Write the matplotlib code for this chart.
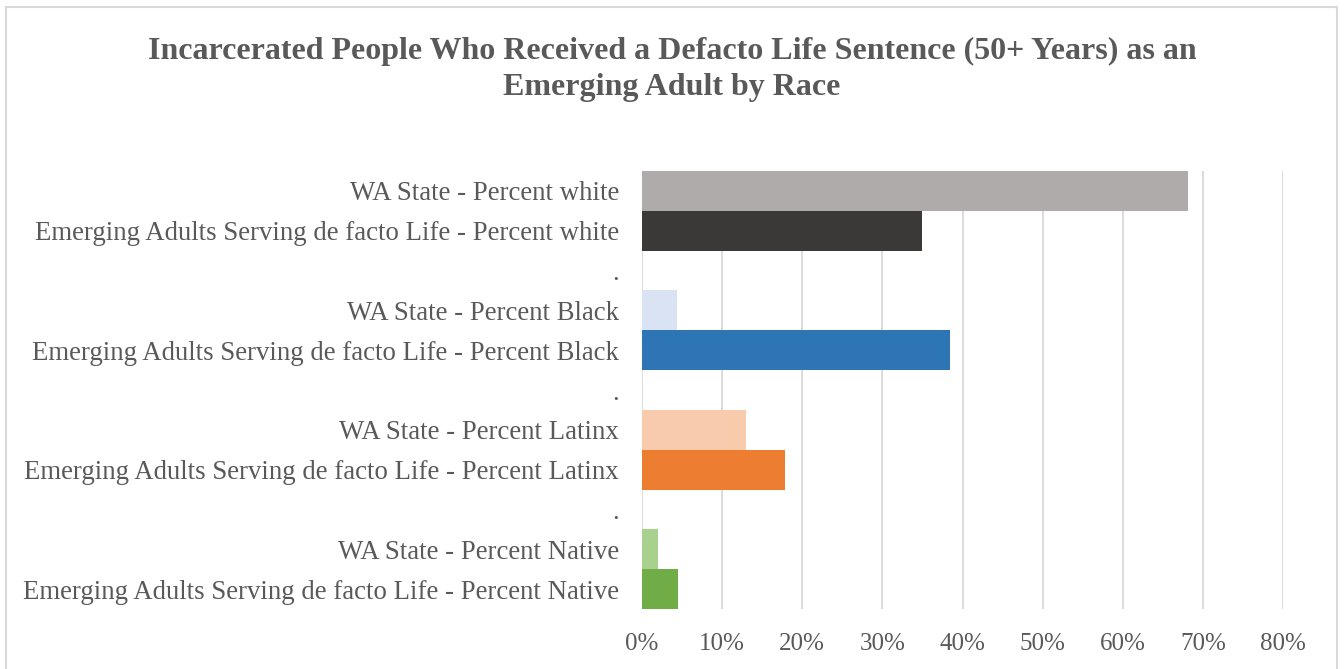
import matplotlib
matplotlib.use("Agg")
import matplotlib.pyplot as plt
from matplotlib.patches import Rectangle
from matplotlib.ticker import PercentFormatter

# categories top to bottom, "." rows are spacers in the original chart
labels = [
    "WA State - Percent white",
    "Emerging Adults Serving de facto Life - Percent white",
    ".",
    "WA State - Percent Black",
    "Emerging Adults Serving de facto Life - Percent Black",
    ".",
    "WA State - Percent Latinx",
    "Emerging Adults Serving de facto Life - Percent Latinx",
    ".",
    "WA State - Percent Native",
    "Emerging Adults Serving de facto Life - Percent Native",
]
values = [0.681, 0.349, 0, 0.044, 0.385, 0, 0.130, 0.179, 0, 0.020, 0.045]
colors = ["#afabaa", "#3b3938", "white", "#dae3f3", "#2e75b6", "white",
          "#f8cbad", "#ed7d31", "white", "#a9d18e", "#70ad47"]

title = ("Incarcerated People Who Received a Defacto Life Sentence (50+ Years) as an\n"
         "Emerging Adult by Race")

txt = "#595959"
plt.rcParams["font.family"] = ["Liberation Serif", "DejaVu Serif"]

fig = plt.figure(figsize=(13.44, 6.69), dpi=100)
ax = fig.add_axes([642 / 1344, 1 - 609 / 669, (1283 - 642) / 1344, (609 - 171) / 669])

y = list(range(len(labels)))
ax.barh(y, values, height=1.0, color=colors, zorder=2)
ax.set_ylim(len(labels) - 0.5, -0.5)
ax.set_yticks(y)
ax.set_yticklabels(labels, fontsize=19.3, color=txt)
ax.set_xlim(0, 0.8)
ax.set_xticks([i / 10 for i in range(9)])
ax.xaxis.set_major_formatter(PercentFormatter(1.0, decimals=0))
ax.tick_params(axis="x", labelsize=18, labelcolor=txt, length=0, pad=17)
ax.tick_params(axis="y", length=0, pad=16.5)
ax.grid(axis="x", color="#d9d9d9", linewidth=1.3, zorder=0)
for s in ax.spines.values():
    s.set_visible(False)

fig.text(0.5, 1 - 69 / 669, title, ha="center", va="center", fontsize=23,
         fontweight="bold", color=txt, linespacing=1.32)

# chart area border
fig.patches.append(Rectangle((6 / 1344, -0.01), (1337 - 6) / 1344, 1 - 7 / 669 + 0.01,
                             transform=fig.transFigure, fill=False,
                             edgecolor="#d9d9d9", linewidth=1.5))

fig.savefig("out.png", dpi=100)
